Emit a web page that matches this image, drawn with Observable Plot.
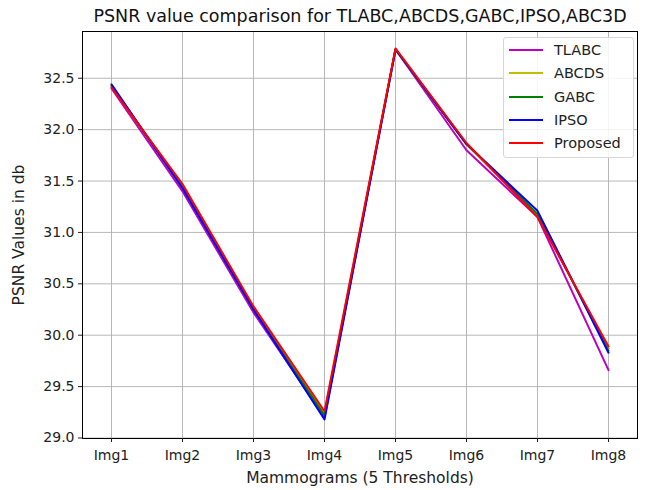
<!DOCTYPE html>
<html><head><meta charset="utf-8">
<script src="https://cdn.jsdelivr.net/npm/d3@7"></script>
<script src="https://cdn.jsdelivr.net/npm/@observablehq/plot@0.6"></script>
<style>
body{margin:0;background:#fff;font-family:"DejaVu Sans",sans-serif;}
#wrap{position:relative;width:653px;height:490px;}
#legend{position:absolute;left:503px;top:37px;width:131px;height:121px;border:1px solid #d8d8d8;border-radius:3px;background:rgba(255,255,255,0.85);box-sizing:border-box;font-size:14.5px;color:#222;}
.item{position:absolute;left:5px;height:20px;display:flex;align-items:center;}
.sw{width:34px;height:0;border-top:2px solid;margin-right:11px;}
</style></head>
<body><div id="wrap"><div id="legend"></div></div>
<script>
const images = ["Img1","Img2","Img3","Img4","Img5","Img6","Img7","Img8"];
const seriesNames = ["TLABC","ABCDS","GABC","IPSO","Proposed"];
const seriesColors = ["#bf00bf","#bfbf00","#008000","#0000ff","#ff0000"];
const TLABC    = [32.40, 31.40, 30.22, 29.20, 32.78, 31.80, 31.15, 29.66];
const ABCDS    = [32.42, 31.45, 30.26, 29.24, 32.78, 31.86, 31.17, 29.87];
const GABC     = [32.43, 31.44, 30.25, 29.22, 32.78, 31.86, 31.18, 29.85];
const IPSO     = [32.44, 31.43, 30.25, 29.18, 32.78, 31.86, 31.21, 29.83];
const Proposed = [32.41, 31.47, 30.28, 29.26, 32.79, 31.87, 31.15, 29.89];
const yTicks = [29.0, 29.5, 30.0, 30.5, 31.0, 31.5, 32.0, 32.5];

const allSeries = [TLABC, ABCDS, GABC, IPSO, Proposed];
const rows = [];
allSeries.forEach((vals, si) => vals.forEach((v, i) => rows.push({img: images[i], value: v, series: seriesNames[si]})));

const chart = Plot.plot({
  width: 653, height: 490,
  marginLeft: 82, marginRight: 16, marginTop: 31, marginBottom: 52,
  style: {fontFamily: "DejaVu Sans, sans-serif", fontSize: "14px", color: "#222", background: "#fff"},
  x: {type: "point", domain: images, padding: 0.38, label: null},
  y: {domain: [28.995, 32.955], label: null},
  color: {domain: seriesNames, range: seriesColors},
  marks: [
    Plot.gridX(images, {x: d => d, stroke: "#b0b0b0", strokeOpacity: 1, strokeWidth: 0.9}),
    Plot.gridY(yTicks, {y: d => d, stroke: "#b0b0b0", strokeOpacity: 1, strokeWidth: 0.9}),
    Plot.lineY(rows, {x: "img", y: "value", z: "series", stroke: "series", strokeWidth: 2}),
    Plot.frame({stroke: "#000", strokeWidth: 1}),
    Plot.axisX({tickSize: 4, tickPadding: 8, label: null, fontSize: 14}),
    Plot.axisY({ticks: yTicks, tickFormat: d3.format(".1f"), tickSize: 4, tickPadding: 4, fontSize: 14,
      label: "PSNR Values in db", labelAnchor: "center", labelArrow: "none", labelOffset: 70}),
    Plot.text(["Mammograms (5 Thresholds)"], {frameAnchor: "bottom", dy: 44, fontSize: 15.5, fill: "#222"}),
    Plot.text(["PSNR value comparison for TLABC,ABCDS,GABC,IPSO,ABC3D"], {frameAnchor: "top", dy: -22, fontSize: 17.5, fill: "#111"})
  ]
});
d3.select(chart).selectAll('[aria-label="y-axis label"], [aria-label="y-axis label"] text').attr("font-size", 15.5);
document.getElementById("wrap").prepend(chart);

const leg = document.getElementById("legend");
seriesNames.forEach((n, i) => {
  const it = document.createElement("div");
  it.className = "item";
  it.style.top = (2 + i * 23.3) + "px";
  it.innerHTML = `<span class="sw" style="border-color:${seriesColors[i]}"></span><span>${n}</span>`;
  leg.appendChild(it);
});
</script>
</body></html>
